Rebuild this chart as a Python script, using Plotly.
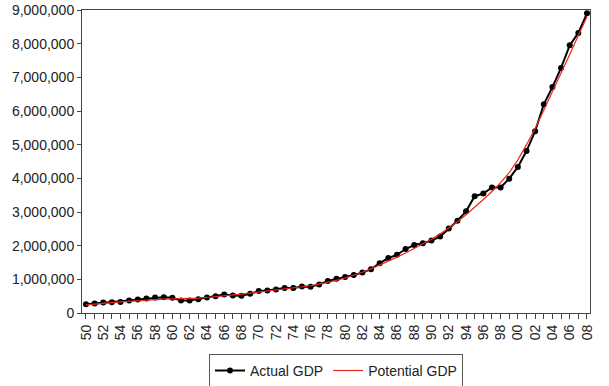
import plotly.graph_objects as go

years = list(range(1950, 2009))
actual_gdp = [
    260000, 280000, 310000, 320000, 330000, 370000, 400000, 430000, 460000, 470000,
    450000, 370000, 370000, 410000, 460000, 500000, 550000, 520000, 510000, 570000,
    650000, 670000, 700000, 740000, 740000, 790000, 780000, 850000, 950000, 1020000,
    1070000, 1130000, 1200000, 1300000, 1480000, 1630000, 1730000, 1900000, 2020000, 2070000,
    2150000, 2270000, 2510000, 2740000, 3020000, 3470000, 3550000, 3730000, 3730000, 3990000,
    4340000, 4810000, 5400000, 6200000, 6710000, 7280000, 7950000, 8320000, 8900000,
]
potential_gdp = [
    240000, 270000, 290000, 310000, 330000, 350000, 370000, 390000, 400000, 410000,
    420000, 420000, 430000, 440000, 460000, 480000, 510000, 530000, 560000, 590000,
    620000, 650000, 680000, 710000, 740000, 770000, 810000, 860000, 910000, 970000,
    1040000, 1120000, 1210000, 1310000, 1420000, 1540000, 1660000, 1780000, 1910000, 2050000,
    2190000, 2350000, 2520000, 2710000, 2920000, 3140000, 3370000, 3610000, 3870000, 4170000,
    4550000, 5000000, 5480000, 6020000, 6560000, 7120000, 7680000, 8240000, 8800000,
]
tick_years = years
tick_text = [f"{y % 100:02d}" if y % 2 == 0 else "" for y in years]
y_ticks = list(range(0, 9000001, 1000000))

fig = go.Figure()
fig.add_trace(go.Scatter(
    x=years, y=actual_gdp, name="Actual GDP", mode="lines+markers",
    line=dict(color="black", width=2), marker=dict(color="black", size=6),
))
fig.add_trace(go.Scatter(
    x=years, y=potential_gdp, name="Potential GDP", mode="lines",
    line=dict(color="#e8281e", width=1.2),
))

fig.update_layout(
    width=609, height=386,
    margin=dict(l=82, r=19, t=10, b=73, autoexpand=False),
    paper_bgcolor="white", plot_bgcolor="white",
    font=dict(family="Liberation Sans, Arial, sans-serif", size=14, color="#222"),
    showlegend=True,
    legend=dict(
        orientation="h", x=0.5, xanchor="center", y=-0.135, yanchor="top",
        bordercolor="#555", borderwidth=1, font=dict(size=14),
        itemwidth=30, tracegroupgap=0,
    ),
)
fig.update_xaxes(
    range=[1949.54, 2008.35], automargin=False,
    tickmode="array", tickvals=tick_years, ticktext=tick_text,
    tickangle=-90, ticks="outside", ticklen=5, tickcolor="#444",
    showgrid=False, zeroline=False,
    showline=True, linecolor="#444", linewidth=1, mirror=True,
)
fig.update_yaxes(
    range=[0, 9000000], automargin=False,
    tickmode="array", tickvals=y_ticks,
    tickformat=",d", ticks="outside", ticklen=4, tickcolor="#444",
    showgrid=False, zeroline=False,
    showline=True, linecolor="#444", linewidth=1, mirror=True,
)

fig.write_html(
    "out.html",
    config={"displayModeBar": False},
    post_script="document.body.style.margin='0';document.body.style.overflow='hidden';",
)
